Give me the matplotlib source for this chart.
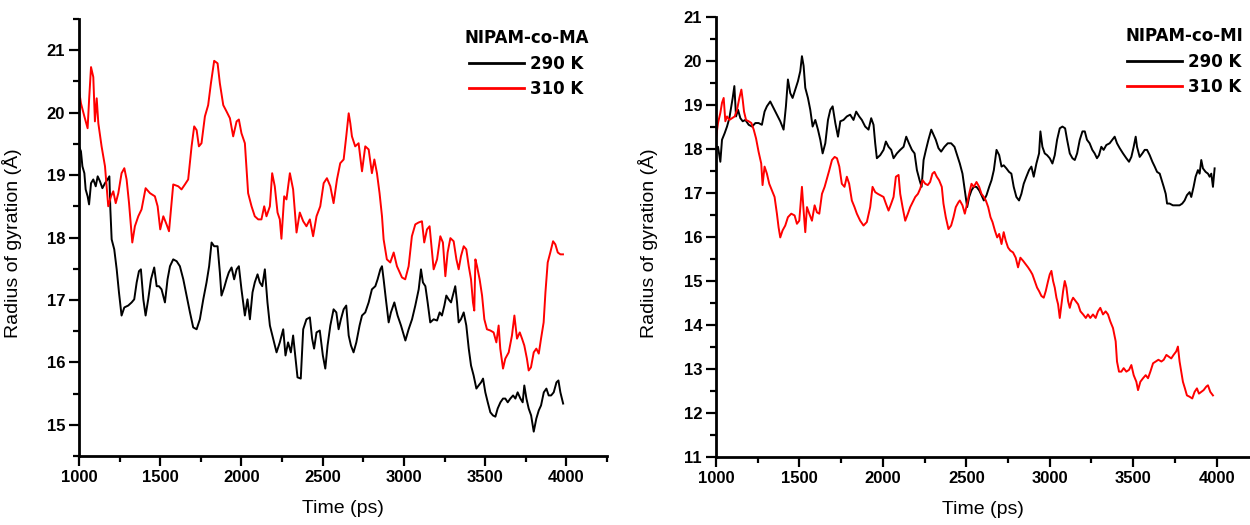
import numpy as np
import matplotlib
matplotlib.use('Agg')
import matplotlib.pyplot as plt
from matplotlib.ticker import MultipleLocator

plt.rcParams['font.family'] = ['Liberation Sans', 'DejaVu Sans']

# NIPAM-co-MA, 290 K
ma290_t = [1000, 1012, 1021, 1033, 1041, 1053, 1062, 1074, 1088, 1103, 1115, 1129, 1144, 1160, 1176, 1187,
           1193, 1201, 1217, 1232, 1246, 1262, 1279, 1303, 1324, 1340, 1355, 1369, 1381, 1396, 1410, 1426,
           1443, 1463, 1478, 1492, 1508, 1529, 1545, 1560, 1580, 1601, 1621, 1642, 1662, 1683, 1703, 1724,
           1744, 1765, 1785, 1801, 1816, 1832, 1853, 1867, 1877, 1894, 1908, 1922, 1939, 1955, 1970, 1984,
           2000, 2021, 2037, 2052, 2068, 2082, 2099, 2113, 2128, 2144, 2160, 2175, 2195, 2216, 2236, 2257,
           2271, 2287, 2304, 2318, 2333, 2345, 2365, 2380, 2400, 2421, 2435, 2447, 2462, 2482,
           2501, 2516, 2530, 2547, 2567, 2584, 2598, 2612, 2629, 2645, 2660, 2674, 2690, 2707, 2727,
           2742, 2762, 2783, 2803, 2824, 2838, 2855, 2865, 2875, 2889, 2906, 2920, 2941, 2961, 2982, 3009,
           3029, 3050, 3070, 3091, 3105, 3117, 3132, 3146, 3162, 3183, 3204, 3220, 3234, 3249, 3261, 3275,
           3290, 3306, 3316, 3327, 3337, 3351, 3368, 3384, 3399, 3413, 3429, 3446, 3460, 3475, 3487, 3501,
           3516, 3532, 3548, 3563, 3577, 3594, 3610, 3624, 3639, 3655, 3672, 3686, 3700, 3717, 3731, 3741,
           3754, 3768, 3783, 3799, 3815, 3830, 3844, 3861, 3877, 3891, 3906, 3922, 3939, 3951, 3963, 3980]
ma290_rg = [19.46, 19.38, 19.14, 19.03, 18.77, 18.66, 18.53, 18.87, 18.93, 18.82, 18.98, 18.9, 18.79, 18.87, 18.93, 18.98,
            18.45, 17.97, 17.81, 17.49, 17.12, 16.75, 16.88, 16.91, 16.96, 17.01, 17.28, 17.46, 17.49, 17.01, 16.75, 17.01,
            17.33, 17.52, 17.22, 17.22, 17.17, 16.96, 17.33, 17.54, 17.65, 17.62, 17.54, 17.33, 17.07, 16.8, 16.56, 16.53,
            16.69, 17.01, 17.28, 17.54, 17.92, 17.86, 17.86, 17.44, 17.07, 17.2, 17.33, 17.44, 17.52, 17.33, 17.49, 17.54,
            17.17, 16.75, 17.01, 16.69, 17.12, 17.28, 17.41, 17.28, 17.22, 17.49, 16.96, 16.59, 16.38, 16.16, 16.32, 16.53,
            16.11, 16.32, 16.16, 16.43, 16.06, 15.76, 15.74, 16.53, 16.69, 16.72, 16.38, 16.22, 16.48, 16.51,
            16.11, 15.9, 16.27, 16.59, 16.85, 16.8, 16.53, 16.69, 16.85, 16.91, 16.43, 16.27, 16.16, 16.32, 16.59,
            16.75, 16.8, 16.96, 17.17, 17.22, 17.33, 17.49, 17.54, 17.33, 17.01, 16.64, 16.8, 16.96, 16.75, 16.59, 16.35,
            16.53, 16.69, 16.91, 17.17, 17.49, 17.28, 17.22, 16.96, 16.64, 16.69, 16.67, 16.8, 16.75, 16.91, 17.07, 17.01,
            16.96, 17.12, 17.22, 16.96, 16.64, 16.69, 16.8, 16.59, 16.22, 15.95, 15.79, 15.58, 15.63, 15.68, 15.74, 15.52,
            15.36, 15.2, 15.15, 15.13, 15.26, 15.36, 15.42, 15.42, 15.36, 15.42, 15.47, 15.42, 15.52, 15.42, 15.36, 15.63,
            15.42, 15.26, 15.15, 14.89, 15.1, 15.23, 15.31, 15.52, 15.58, 15.47, 15.47, 15.52, 15.68, 15.71, 15.52, 15.34]

# NIPAM-co-MA, 310 K
ma310_t = [1000, 1012, 1033, 1053, 1062, 1074, 1088, 1098, 1109, 1119, 1139, 1160, 1180, 1197, 1211, 1226,
           1242, 1262, 1279, 1293, 1308, 1328, 1344, 1365, 1385, 1410, 1437, 1467, 1484, 1500, 1519, 1539,
           1554, 1580, 1611, 1631, 1652, 1672, 1693, 1709, 1724, 1738, 1754, 1775, 1795, 1812, 1832, 1853,
           1867, 1888, 1908, 1929, 1949, 1970, 1984, 2000, 2021, 2041, 2062, 2082, 2103, 2123, 2140, 2154,
           2175, 2189, 2205, 2222, 2236, 2246, 2263, 2277, 2298, 2318, 2339, 2359, 2380, 2400, 2421, 2441, 2462,
           2485, 2506, 2526, 2547, 2567, 2588, 2608, 2629, 2645, 2660, 2670, 2680, 2700, 2721, 2742, 2762,
           2783, 2803, 2818, 2834, 2850, 2865, 2875, 2895, 2916, 2937, 2957, 2988, 3008, 3029, 3049, 3070,
           3090, 3111, 3125, 3142, 3158, 3173, 3183, 3204, 3224, 3240, 3255, 3269, 3286, 3306, 3323, 3337,
           3351, 3368, 3384, 3399, 3413, 3425, 3433, 3440, 3450, 3466, 3481, 3495, 3511, 3532, 3552, 3569,
           3583, 3593, 3610, 3624, 3645, 3665, 3680, 3696, 3713, 3727, 3741, 3757, 3768, 3782, 3799, 3815,
           3830, 3844, 3860, 3871, 3885, 3901, 3918, 3932, 3947, 3963, 3979]
ma310_rg = [20.36, 20.15, 19.94, 19.75, 20.2, 20.73, 20.57, 19.86, 20.23, 19.83, 19.46, 19.14, 18.5, 18.66, 18.74, 18.55,
            18.71, 19.03, 19.11, 18.93, 18.55, 17.92, 18.18, 18.34, 18.45, 18.79, 18.71, 18.66, 18.5, 18.13, 18.34, 18.21,
            18.1, 18.85, 18.82, 18.77, 18.85, 18.93, 19.46, 19.78, 19.72, 19.46, 19.51, 19.94, 20.12, 20.47, 20.83, 20.79,
            20.47, 20.12, 20.02, 19.91, 19.62, 19.86, 19.89, 19.67, 19.51, 18.71, 18.5, 18.34, 18.29, 18.29, 18.5, 18.34,
            18.5, 19.03, 18.82, 18.4, 18.29, 17.98, 18.66, 18.61, 19.03, 18.77, 18.08, 18.4, 18.26, 18.18, 18.29, 18.02, 18.34,
            18.5, 18.87, 18.95, 18.82, 18.55, 18.93, 19.19, 19.25, 19.62, 19.99, 19.83, 19.62, 19.46, 19.51, 19.06, 19.46,
            19.41, 19.03, 19.25, 19.03, 18.71, 18.34, 17.97, 17.65, 17.6, 17.76, 17.54, 17.36, 17.33, 17.54, 18.02, 18.21,
            18.24, 18.26, 17.92, 18.13, 18.18, 17.76, 17.49, 17.65, 18.02, 17.92, 17.38, 17.76, 17.99, 17.94, 17.65, 17.49,
            17.7, 17.86, 17.81, 17.54, 17.33, 16.96, 16.83, 17.65, 17.54, 17.33, 17.07, 16.69, 16.53, 16.51, 16.48, 16.32,
            16.59, 16.22, 15.9, 16.06, 16.16, 16.43, 16.75, 16.38, 16.48, 16.38, 16.27, 16.06, 15.87, 15.92, 16.16, 16.22,
            16.14, 16.38, 16.64, 17.12, 17.6, 17.76, 17.94, 17.89, 17.76, 17.73, 17.73]

# NIPAM-co-MI, 290 K
mi290_t = [1000, 1012, 1026, 1036, 1052, 1066, 1080, 1092, 1100, 1110, 1120, 1132, 1146, 1160, 1176, 1196,
           1216, 1236, 1255, 1275, 1291, 1305, 1325, 1345, 1365, 1385, 1405, 1419, 1431, 1445, 1459, 1475,
           1491, 1505, 1515, 1525, 1535, 1551, 1565, 1579, 1595, 1611, 1625, 1639, 1655, 1671, 1685, 1699,
           1715, 1731, 1745, 1764, 1784, 1804, 1824, 1840, 1858, 1874, 1894, 1914, 1930, 1944, 1954, 1964,
           1984, 2004, 2018, 2034, 2050, 2064, 2084, 2104, 2124, 2140, 2156, 2174, 2190, 2204, 2220, 2232,
           2244, 2258, 2273, 2290, 2304, 2317, 2333, 2349, 2369, 2389, 2409, 2429, 2445,
           2461, 2477, 2491, 2505, 2517, 2531, 2545, 2561, 2577, 2591, 2605, 2621, 2637, 2651, 2665, 2681,
           2697, 2711, 2724, 2740, 2756, 2770, 2784, 2800, 2816, 2830, 2844, 2860, 2876, 2890, 2904, 2920,
           2936, 2944, 2956, 2970, 2984, 3000, 3016, 3030, 3044, 3060, 3076, 3092, 3104, 3120, 3136, 3150,
           3164, 3180, 3196, 3210, 3223, 3239, 3255, 3269, 3283, 3295, 3309, 3323, 3339, 3359, 3375, 3389,
           3403, 3419, 3439, 3459, 3475, 3489, 3503, 3515, 3523, 3539, 3555, 3569, 3583, 3599, 3615, 3629,
           3643, 3659, 3671, 3683, 3695, 3703, 3718, 3738, 3758, 3778, 3794, 3808, 3822, 3838, 3848, 3862,
           3874, 3888, 3898, 3908, 3918, 3934, 3948, 3958, 3968, 3978, 3988]
mi290_rg = [17.98, 18.05, 17.71, 18.21, 18.36, 18.51, 18.7, 18.97, 19.16, 19.43, 18.74, 18.89, 18.7, 18.63, 18.66, 18.55,
            18.51, 18.59, 18.59, 18.55, 18.85, 18.97, 19.08, 18.93, 18.78, 18.63, 18.44, 18.97, 19.58, 19.27, 19.16, 19.35,
            19.54, 19.77, 20.11, 19.89, 19.39, 19.16, 18.89, 18.51, 18.66, 18.44, 18.21, 17.9, 18.13, 18.66, 18.89, 18.97,
            18.59, 18.28, 18.63, 18.66, 18.74, 18.78, 18.66, 18.85, 18.74, 18.66, 18.51, 18.44, 18.7, 18.55, 18.13, 17.79,
            17.86, 17.98, 18.17, 18.05, 17.98, 17.79, 17.9, 17.98, 18.05, 18.28, 18.13, 17.98, 17.9, 17.52, 17.29, 17.14,
            17.75, 17.98, 18.21, 18.44, 18.32, 18.21, 18.02, 17.94, 18.05, 18.13, 18.13, 18.05, 17.86,
            17.67, 17.44, 17.06, 16.68, 16.91, 17.06, 17.14, 17.14, 17.06, 16.95, 16.83, 16.95, 17.14, 17.29, 17.52, 17.98,
            17.86, 17.6, 17.63, 17.56, 17.48, 17.44, 17.14, 16.91, 16.83, 16.98, 17.21, 17.37, 17.52, 17.6, 17.37, 17.67,
            17.9, 18.4, 18.05, 17.9, 17.86, 17.79, 17.67, 17.86, 18.21, 18.47, 18.51, 18.47, 18.21, 17.9, 17.79, 17.75,
            17.9, 18.21, 18.4, 18.4, 18.21, 18.13, 17.98, 17.9, 17.79, 17.86, 18.05, 17.98, 18.09, 18.13, 18.21, 18.28,
            18.13, 18.02, 17.9, 17.79, 17.71, 17.82, 18.05, 18.28, 18.05, 17.82, 17.9, 17.98, 17.98, 17.86, 17.71, 17.6,
            17.48, 17.44, 17.29, 17.14, 16.98, 16.76, 16.76, 16.72, 16.72, 16.72, 16.76, 16.83, 16.95, 17.02, 16.91, 17.14,
            17.37, 17.52, 17.44, 17.75, 17.56, 17.48, 17.44, 17.37, 17.44, 17.14, 17.56]

# NIPAM-co-MI, 310 K
mi310_t = [1000, 1012, 1026, 1036, 1046, 1056, 1066, 1080, 1096, 1112, 1126, 1140, 1152, 1160, 1168, 1180,
           1196, 1212, 1226, 1240, 1255, 1271, 1279, 1291, 1305, 1319, 1335, 1351, 1365, 1375, 1385, 1399,
           1415, 1431, 1451, 1471, 1485, 1499, 1515, 1525, 1535, 1545, 1559, 1575, 1591, 1605, 1619, 1635,
           1651, 1665, 1679, 1695, 1711, 1725, 1739, 1754, 1770, 1784, 1798, 1814, 1830, 1844, 1864, 1884,
           1904, 1924, 1938, 1954, 1970, 1984, 2004, 2018, 2034, 2050, 2064, 2078, 2094, 2104, 2118, 2134,
           2150, 2164, 2178, 2194, 2210, 2224, 2238, 2254, 2269, 2283, 2297, 2309, 2323, 2337, 2353, 2363,
           2377, 2393, 2409, 2423, 2437, 2453,
           2461, 2477, 2491, 2505, 2517, 2531, 2545, 2561, 2577, 2591, 2605, 2617, 2631, 2645, 2657, 2671,
           2685, 2697, 2711, 2724, 2736, 2750, 2764, 2780, 2796, 2810, 2824, 2840, 2856, 2870, 2884, 2896,
           2910, 2924, 2936, 2950, 2964, 2976, 2990, 3000, 3010, 3020, 3030, 3040, 3050, 3060, 3070, 3080,
           3090, 3100, 3110, 3120, 3130, 3140, 3156, 3170, 3184, 3200, 3216, 3229, 3243, 3259, 3275, 3289,
           3303, 3319, 3335, 3349, 3363, 3379, 3395, 3403, 3415, 3429, 3443, 3459, 3475, 3489, 3503, 3519,
           3529, 3543, 3559, 3575, 3589, 3603, 3619, 3635, 3651, 3669, 3683, 3699, 3714, 3728, 3742, 3758,
           3768, 3778, 3788, 3798, 3810, 3822, 3838, 3854, 3868, 3882, 3894, 3908, 3922, 3938, 3948, 3962, 3978]
mi310_rg = [18.24, 18.59, 18.82, 19.05, 19.16, 18.63, 18.74, 18.66, 18.7, 18.74, 18.89, 19.16, 19.35, 19.12, 18.85, 18.66,
            18.63, 18.59, 18.44, 18.24, 17.94, 17.67, 17.18, 17.6, 17.44, 17.21, 17.06, 16.91, 16.53, 16.22, 15.99, 16.15,
            16.26, 16.45, 16.53, 16.49, 16.3, 16.37, 17.14, 16.6, 16.11, 16.68, 16.53, 16.37, 16.72, 16.56, 16.53, 16.98,
            17.14, 17.33, 17.52, 17.75, 17.82, 17.79, 17.6, 17.21, 17.14, 17.37, 17.21, 16.83, 16.68, 16.53, 16.37, 16.26,
            16.34, 16.68, 17.14, 17.02, 16.98, 16.95, 16.91, 16.76, 16.6, 16.76, 16.91, 17.37, 17.41, 16.98, 16.68, 16.37,
            16.53, 16.68, 16.79, 16.91, 16.98, 17.1, 17.29, 17.21, 17.18, 17.25, 17.44, 17.48, 17.37, 17.29, 17.14, 16.76,
            16.45, 16.18, 16.26, 16.45, 16.68, 16.79,
            16.83, 16.72, 16.53, 16.76, 16.98, 17.21, 17.14, 17.25, 17.14, 16.98, 16.91, 16.83, 16.68, 16.45, 16.34, 16.15,
            15.99, 16.07, 15.84, 16.11, 15.92, 15.76, 15.69, 15.65, 15.53, 15.31, 15.53, 15.46, 15.38, 15.31, 15.23, 15.15,
            15.0, 14.85, 14.77, 14.66, 14.62, 14.77, 15.0, 15.15, 15.23, 15.0, 14.85, 14.62, 14.47, 14.16, 14.47, 14.77,
            15.0, 14.85, 14.54, 14.39, 14.54, 14.62, 14.54, 14.47, 14.31, 14.24, 14.16, 14.24, 14.16, 14.24, 14.16, 14.31,
            14.39, 14.24, 14.31, 14.24, 14.08, 13.93, 13.63, 13.17, 12.94, 12.94, 13.02, 12.94, 12.98, 13.09, 12.86, 12.71,
            12.52, 12.71, 12.79, 12.86, 12.79, 12.94, 13.13, 13.17, 13.21, 13.17, 13.21, 13.32, 13.28, 13.24, 13.32, 13.4,
            13.51, 13.17, 12.94, 12.71, 12.56, 12.4, 12.37, 12.33, 12.48, 12.56, 12.44, 12.48, 12.52, 12.6, 12.63, 12.48, 12.4]

W, H = 1250, 525
fig = plt.figure(figsize=(W / 100, H / 100), dpi=100)

ax1 = fig.add_axes([79 / W, 1 - 456 / H, 528 / W, 437 / H])
ax2 = fig.add_axes([716 / W, 1 - 457 / H, 534 / W, 440 / H])

panels = [
    (ax1, ma290_t, ma290_rg, ma310_t, ma310_rg, 'NIPAM-co-MA', (14.5, 21.5), (1000, 4250), 15, 22, 0.984),
    (ax2, mi290_t, mi290_rg, mi310_t, mi310_rg, 'NIPAM-co-MI', (11, 21), (1000, 4200), 11, 22, 1.006),
]

for ax, t1, r1, t2, r2, title, ylim, xlim, y0, y1, lx in panels:
    ax.plot(t1, r1, color='black', lw=1.4, label='290 K')
    ax.plot(t2, r2, color='#ff0000', lw=1.4, label='310 K')
    ax.set_xlim(*xlim)
    ax.set_ylim(*ylim)
    ax.set_xticks(np.arange(1000, 4001, 500))
    ax.set_yticks(np.arange(y0, y1))
    ax.xaxis.set_minor_locator(MultipleLocator(250))
    ax.yaxis.set_minor_locator(MultipleLocator(0.5))
    for s in ['top', 'right']:
        ax.spines[s].set_visible(False)
    for s in ['left', 'bottom']:
        ax.spines[s].set_linewidth(2.0)
    ax.tick_params(which='major', direction='out', length=7, width=1.6, pad=3,
                   labelsize=12)
    ax.tick_params(which='minor', direction='out', length=4.5, width=1.6)
    for lab in ax.get_xticklabels() + ax.get_yticklabels():
        lab.set_fontweight('bold')
    ax.set_xlabel('Time (ps)', fontsize=14)
    ax.set_ylabel('Radius of gyration (\u00c5)', fontsize=14)
    ax.yaxis.set_label_coords(-0.108, 0.487)
    ax.xaxis.set_label_coords(0.5, -0.1)
    leg = ax.legend(title=title, loc='upper right', frameon=False,
                    prop={'family': 'DejaVu Sans', 'weight': 'bold', 'size': 12},
                    handlelength=3.3, handletextpad=0.4, labelspacing=0.4,
                    borderaxespad=0.2, bbox_to_anchor=(lx, 1.0))
    leg.get_title().set_fontweight('bold')
    leg.get_title().set_fontfamily('DejaVu Sans')
    leg.get_title().set_fontsize(12)
    leg._legend_box.sep = 6
    for line in leg.get_lines():
        line.set_linewidth(2)

fig.savefig('out.png', dpi=100)
